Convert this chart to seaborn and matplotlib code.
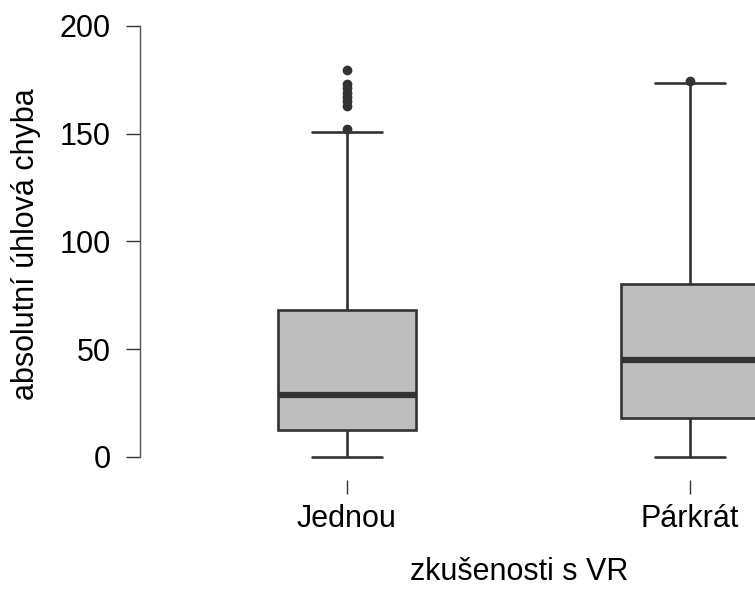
import numpy as np
import pandas as pd
import matplotlib
matplotlib.use("Agg")
import matplotlib.pyplot as plt
import seaborn as sns

groups = ["Jednou", "Párkrát"]

# hodnoty odhadnute z obrazku: min, Q1, median, Q3, horni vous + odlehle body
jednou_min = 0.0
jednou_q1 = 12.5
jednou_med = 28.8
jednou_q3 = 68.2
jednou_upper = [150.8, 152.2, 163, 165, 167, 169, 171, 173, 179.6]

parkrat_min = 0.2
parkrat_q1 = 18.1
parkrat_med = 45.0
parkrat_q3 = 80.3
parkrat_upper = [173.4, 174.5]

y_ticks = [0, 50, 100, 150, 200]


def make_sample(mn, q1, med, q3, upper):
    # 4k+1 hodnot -> kvartily padnou presne na zadana cisla
    k = len(upper)
    return [mn] + [q1] * k + [med] * k + [q3] * k + list(upper)


vals1 = make_sample(jednou_min, jednou_q1, jednou_med, jednou_q3, jednou_upper)
vals2 = make_sample(parkrat_min, parkrat_q1, parkrat_med, parkrat_q3, parkrat_upper)
df = pd.DataFrame({
    "skupina": [groups[0]] * len(vals1) + [groups[1]] * len(vals2),
    "chyba": vals1 + vals2,
})

sns.set_style("white")
plt.rcParams["font.family"] = ["Liberation Sans", "DejaVu Sans"]

fig = plt.figure(figsize=(7.55, 5.89), dpi=100)
ax = fig.add_axes([0.1854, 0.1851, 0.8146, 0.7997])

dark = "#333333"
fs = 22
sns.boxplot(
    data=df, x="skupina", y="chyba", order=groups,
    color="#BEBEBE", saturation=1, linecolor=dark, linewidth=1.9,
    width=0.405, whis=1.5, fliersize=6,
    medianprops=dict(linewidth=4.5, color=dark),
    flierprops=dict(marker="o", markerfacecolor=dark, markeredgecolor=dark),
    ax=ax,
)

ax.set_xlim(-0.6035, 1.1895)
ax.set_ylim(-10.67, 207.9)
ax.set_yticks(y_ticks)
ax.set_yticklabels([str(t) for t in y_ticks])

for s in ["top", "right", "bottom"]:
    ax.spines[s].set_visible(False)
ax.spines["left"].set_bounds(0, 200)
ax.spines["left"].set_color("#555555")
ax.spines["left"].set_linewidth(1)

ax.tick_params(axis="both", direction="out", length=10, width=1,
               color=dark, labelsize=fs, labelcolor="black")
ax.tick_params(axis="y", pad=11, left=True)
ax.tick_params(axis="x", pad=7, bottom=True)

ax.set_xlabel("zkušenosti s VR", fontsize=fs, color="black")
ax.set_ylabel("absolutní úhlová chyba", fontsize=fs, color="black")
ax.xaxis.set_label_coords(0.617, -0.1635)
ax.yaxis.set_label_coords(-0.1613, 0.5)

fig.savefig("out.png", dpi=100)
